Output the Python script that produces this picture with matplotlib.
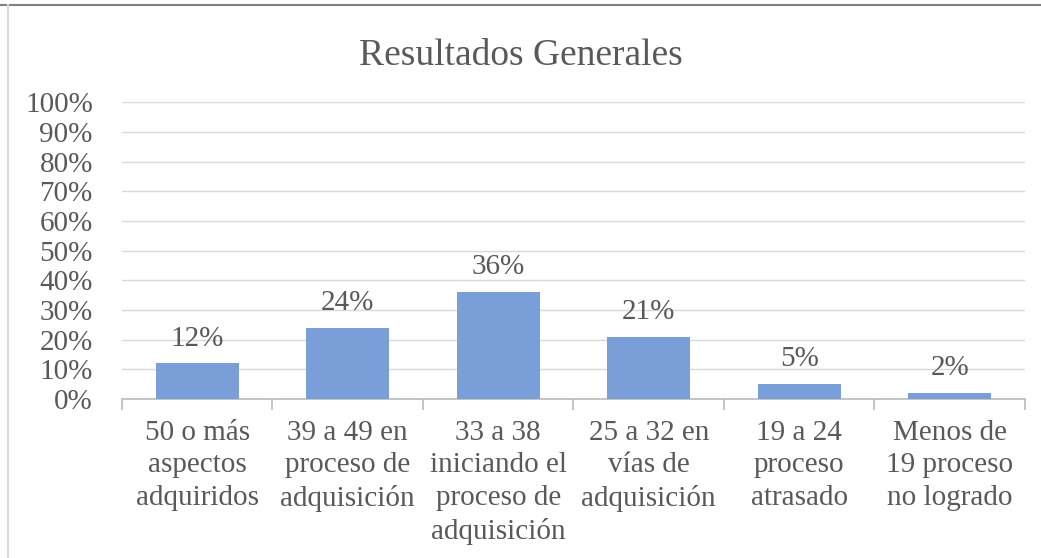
#!/usr/bin/env python3
"""Bar chart: Resultados Generales."""

import matplotlib.pyplot as plt
from matplotlib.lines import Line2D
from matplotlib.ticker import MultipleLocator, FuncFormatter

categories = [
    "50 o más\naspectos\nadquiridos",
    "39 a 49 en\nproceso de\nadquisición",
    "33 a 38\niniciando el\nproceso de\nadquisición",
    "25 a 32 en\nvías de\nadquisición",
    "19 a 24\nproceso\natrasado",
    "Menos de\n19 proceso\nno logrado",
]
values = [12, 24, 36, 21, 5, 2]

TEXT = "#595959"
BAR = "#7A9FD8"

plt.rcParams["font.family"] = ["Liberation Serif", "DejaVu Serif"]

fig = plt.figure(figsize=(10.41, 5.58), dpi=100)
ax = fig.add_axes([0.1172, 0.2849, 0.8674, 0.532])

x = range(len(categories))
bars = ax.bar(x, values, width=0.55, color=BAR, zorder=3)
for b, v in zip(bars, values):
    ax.text(b.get_x() + b.get_width() / 2, v + 4, f"{v}%", ha="center",
            va="bottom", fontsize=21, color=TEXT)

ax.set_xlim(-0.5, len(categories) - 0.5)
ax.set_ylim(0, 100)
ax.yaxis.set_major_locator(MultipleLocator(10))
ax.yaxis.set_major_formatter(FuncFormatter(lambda v, p: f"{v:.0f}%"))
ax.grid(axis="y", color="#D9D9D9", linewidth=1, zorder=0)

for s in ["top", "right", "left"]:
    ax.spines[s].set_visible(False)
ax.spines["bottom"].set_color("#BFBFBF")
ax.spines["bottom"].set_linewidth(1.3)

ax.set_xticks([i - 0.5 for i in range(len(categories) + 1)], minor=False)
ax.set_xticklabels([])
ax.set_xticks(list(x), minor=True)
ax.set_xticklabels(categories, minor=True, fontsize=21, color=TEXT,
                   linespacing=1.33)
ax.tick_params(axis="x", which="major", length=8, width=1.3, color="#BFBFBF")
ax.tick_params(axis="x", which="minor", length=0, pad=15)
ax.tick_params(axis="y", length=0, labelsize=21, labelcolor=TEXT, pad=21)

fig.text(0.5, 0.9, "Resultados Generales", ha="center", va="center",
         fontsize=27, color=TEXT)

# frame lines of the original image
fig.add_artist(Line2D([0, 1], [0.991, 0.991], color="#7F7F7F", linewidth=1.5))
fig.add_artist(Line2D([0.0077, 0.0077], [0, 0.991], color="#D9D9D9", linewidth=1.5))

fig.savefig("out.png", dpi=100)
